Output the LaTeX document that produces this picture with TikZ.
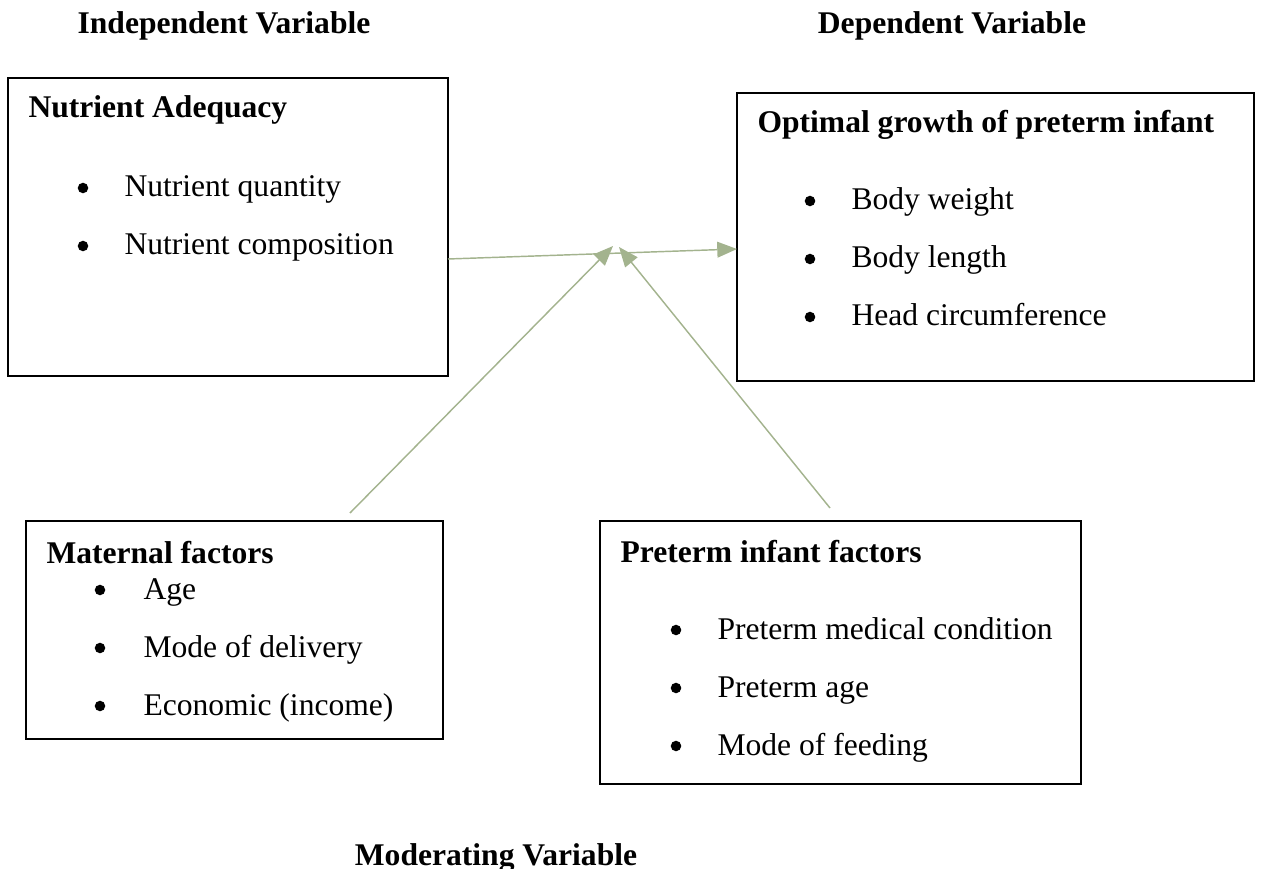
\documentclass[tikz,border=0pt]{standalone}
\usepackage{fontspec}
\setmainfont{Liberation Serif}
\usetikzlibrary{arrows.meta,fit}
\definecolor{sage}{RGB}{163,179,142}
\begin{document}
\begin{tikzpicture}[x=0.38pt,y=-0.38pt,
  box/.style={draw=black,line width=0.75pt,inner sep=0pt},
  txt/.style={anchor=base west,inner sep=0pt,font=\fontsize{12}{14}\selectfont},
  hd/.style={anchor=base west,inner sep=0pt,font=\fontsize{12}{14}\selectfont\bfseries},
  title/.style={anchor=base,inner sep=0pt,font=\fontsize{12}{14}\selectfont\bfseries},
  dot/.style={circle,fill=black,inner sep=0pt,minimum size=4pt},
  link/.style={draw=sage,line width=0.55pt,-{Triangle[length=7.5pt,width=6pt]}}]
\useasboundingbox (0,0) rectangle (1273,869);

% titles
\node[title] (tind) at (224,34) {Independent Variable};
\node[title] (tdep) at (952,34) {Dependent Variable};
\node[title] (tmod) at (496,865) {Moderating Variable};

% boxes
\node[box,fit={(8,78) (448,376)}] (nut) {};
\node[box,fit={(737,93) (1254,381)}] (opt) {};
\node[box,fit={(26,521) (443,739)}] (mat) {};
\node[box,fit={(600,521) (1081,784)}] (pre) {};

% Nutrient Adequacy
\node[hd] (nutH) at (28,118) {Nutrient Adequacy};
\node[dot] (nutB1) at (83,188) {};
\node[txt] (nutI1) at (124,197) {Nutrient quantity};
\node[dot] (nutB2) at (83,246) {};
\node[txt] (nutI2) at (124,255) {Nutrient composition};

% Optimal growth
\node[hd] (optH) at (757,133) {Optimal growth of preterm infant};
\node[dot] (optB1) at (810,201) {};
\node[txt] (optI1) at (851,210) {Body weight};
\node[dot] (optB2) at (810,259) {};
\node[txt] (optI2) at (851,268) {Body length};
\node[dot] (optB3) at (810,317) {};
\node[txt] (optI3) at (851,326) {Head circumference};

% Maternal factors
\node[hd] (matH) at (46,563) {Maternal factors};
\node[dot] (matB1) at (100,590) {};
\node[txt] (matI1) at (143,599) {Age};
\node[dot] (matB2) at (100,648) {};
\node[txt] (matI2) at (143,657) {Mode of delivery};
\node[dot] (matB3) at (100,706) {};
\node[txt] (matI3) at (143,715) {Economic (income)};

% Preterm infant factors
\node[hd] (preH) at (620,562) {Preterm infant factors};
\node[dot] (preB1) at (676,630) {};
\node[txt] (preI1) at (717,639) {Preterm medical condition};
\node[dot] (preB2) at (676,688) {};
\node[txt] (preI2) at (717,697) {Preterm age};
\node[dot] (preB3) at (676,746) {};
\node[txt] (preI3) at (717,755) {Mode of feeding};

% connector ends
\coordinate (hs) at (448,259);
\coordinate (he) at (737,249);
\coordinate (d1s) at (350,513);
\coordinate (d1e) at (613,246);
\coordinate (d2s) at (830,508);
\coordinate (d2e) at (619,247);

\draw[link] (hs) -- (he);
\draw[link] (d1s) -- (d1e);
\draw[link] (d2s) -- (d2e);
\end{tikzpicture}
\end{document}
